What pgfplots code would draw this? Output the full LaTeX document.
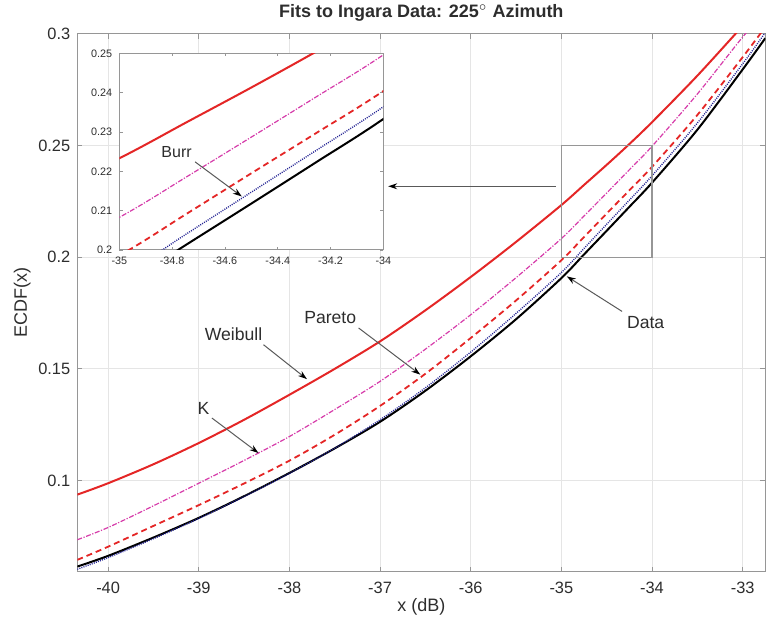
\documentclass[border=0pt]{standalone}
\usepackage{pgfplots}
\usepackage{pgfplotstable}
\pgfplotsset{compat=1.18}
\usepackage{fontspec}
\setmainfont{Liberation Sans}
\usetikzlibrary{arrows.meta}
\definecolor{mred}{RGB}{228,38,38}
\definecolor{mmag}{RGB}{214,60,170}
\definecolor{mblue}{RGB}{40,40,150}
\definecolor{axgray}{RGB}{150,150,150}
\definecolor{txtgray}{RGB}{45,45,45}

\pgfplotstableread{
x y
-40.34 0.0937
-40 0.0988
-39.5 0.1073
-39 0.1168
-38.5 0.1272
-38 0.1384
-37.5 0.1500
-37 0.1623
-36.5 0.1762
-36 0.1911
-35.5 0.2068
-35 0.2233
-34.75 0.2323
-34.5 0.2413
-34.25 0.2506
-34 0.2604
-33.5 0.2812
-33 0.3035
}\weibull

\pgfplotstableread{
x y
-40.34 0.0735
-40 0.0790
-39.5 0.0887
-39 0.0988
-38.5 0.1090
-38 0.1197
-37.5 0.1318
-37 0.1444
-36.5 0.1588
-36 0.1742
-35.5 0.1908
-35 0.2083
-34.75 0.2184
-34.5 0.2287
-34.25 0.2391
-34 0.2496
-33.5 0.2730
-33 0.2985
-32.75 0.3100
}\kdist

\pgfplotstableread{
x y
-40.34 0.0645
-40 0.0704
-39.5 0.0797
-39 0.0890
-38.5 0.0987
-38 0.1089
-37.5 0.1205
-37 0.1334
-36.5 0.1478
-36 0.1638
-35.5 0.1806
-35 0.1986
-34.75 0.2090
-34.5 0.2195
-34.25 0.2299
-34 0.2404
-33.5 0.2636
-33 0.2895
-32.75 0.3030
}\pareto

\pgfplotstableread{
x y
-40.34 0.0603
-40 0.0655
-39.5 0.0740
-39 0.0830
-38.5 0.0928
-38 0.1032
-37.5 0.1145
-37 0.1272
-36.5 0.1415
-36 0.1575
-35.5 0.1748
-35 0.1931
-34.75 0.2039
-34.5 0.2147
-34.25 0.2255
-34 0.2364
-33.5 0.2600
-33 0.2865
-32.75 0.3005
}\burr

\pgfplotstableread{
x y
-40.34 0.0615
-40 0.0663
-39.5 0.0745
-39 0.0833
-38.5 0.0930
-38 0.1034
-37.5 0.1144
-37 0.1263
-36.5 0.1402
-36 0.1556
-35.5 0.1722
-35 0.1906
-34.75 0.2012
-34.5 0.2118
-34.25 0.2225
-34 0.2333
-33.5 0.2570
-33 0.2840
-32.75 0.2980
}\data

\begin{document}
\begin{tikzpicture}
\pgfplotsset{
  curves/.style={no marks, smooth, tension=0.5},
  wbl/.style={mred, line width=1pt},
  kst/.style={mmag, line width=0.6pt, dash pattern=on 2.5pt off 0.8pt on 0.6pt off 0.8pt},
  par/.style={mred, line width=0.9pt, dash pattern=on 3pt off 2pt},
  bur/.style={mblue, line width=0.7pt, dash pattern=on 0.5pt off 0.6pt},
  dat/.style={black, line width=1pt},
}
\begin{axis}[
  at={(0,0)}, anchor=south west,
  scale only axis, width=344pt, height=269pt,
  xmin=-40.34, xmax=-32.75, ymin=0.0592, ymax=0.3,
  xtick={-40,-39,-38,-37,-36,-35,-34,-33},
  ytick={0.1,0.15,0.2,0.25,0.3},
  grid=major, major grid style={black!10, line width=0.4pt},
  axis line style={axgray, line width=0.5pt},
  tick style={axgray, line width=0.5pt}, tick align=inside, major tick length=2.5pt,
  /pgf/number format/assume math mode=true,
  ticklabel style={font=\fontsize{8.2}{9}\selectfont, text=txtgray},
  xticklabel style={yshift=-1.5pt},
  yticklabel style={/pgf/number format/fixed, /pgf/number format/precision=2},
  xlabel={x (dB)}, ylabel={ECDF(x)},
  label style={font=\fontsize{9}{10}\selectfont, text=txtgray},
  xlabel style={at={(axis description cs:0.5,-0.0658)}, anchor=center},
  ylabel style={at={(axis description cs:-0.08,0.5)}, anchor=center},
]
\addplot[curves, wbl] table {\weibull};
\addplot[curves, kst] table {\kdist};
\addplot[curves, par] table {\pareto};
\addplot[curves, dat] table {\data};
\addplot[curves, bur] table {\burr};
\draw[axgray, line width=0.6pt] (axis cs:-35,0.2) rectangle (axis cs:-34,0.25);
\draw[black!65, line width=0.5pt, -{Stealth[length=4.5pt,width=3pt,black]}] (axis cs:-35.06,0.2317) -- (axis cs:-36.91,0.2317);
\tikzset{ann/.style={black!65, line width=0.5pt, -{Stealth[length=4.5pt,width=3pt,black]}},
         lab/.style={font=\fontsize{8.8}{10}\selectfont, text=txtgray}}
\draw[ann] (axis cs:-38.286,0.1608) -- (axis cs:-37.807,0.1454);
\node[lab] at (axis cs:-38.617,0.1653) {Weibull};
\draw[ann] (axis cs:-37.237,0.1683) -- (axis cs:-36.556,0.1474);
\node[lab] at (axis cs:-37.55,0.1728) {Pareto};
\draw[ann] (axis cs:-38.855,0.128) -- (axis cs:-38.341,0.1123);
\node[lab] at (axis cs:-38.948,0.1324) {K};
\draw[ann] (axis cs:-34.33,0.1757) -- (axis cs:-34.94,0.1914);
\node[lab] at (axis cs:-34.07,0.1708) {Data};
\end{axis}

\begin{axis}[
  at={(21pt,160.85pt)}, anchor=south west,
  scale only axis, width=132pt, height=98.35pt,
  xmin=-35, xmax=-34, ymin=0.2, ymax=0.25,
  xtick={-35,-34.8,-34.6,-34.4,-34.2,-34},
  ytick={0.2,0.21,0.22,0.23,0.24,0.25},
  axis background/.style={fill=white},
  axis line style={axgray, line width=0.5pt},
  tick style={axgray, line width=0.4pt}, tick align=inside, major tick length=1.6pt,
  /pgf/number format/assume math mode=true,
  ticklabel style={font=\fontsize{5.4}{6}\selectfont, text=txtgray},
  xticklabel style={/pgf/number format/fixed, /pgf/number format/precision=1},
  yticklabel style={/pgf/number format/fixed, /pgf/number format/precision=2},
]
\addplot[curves, wbl] table {\weibull};
\addplot[curves, kst] table {\kdist};
\addplot[curves, par] table {\pareto};
\addplot[curves, dat] table {\data};
\addplot[curves, bur] table {\burr};
\draw[black!65, line width=0.5pt, -{Stealth[length=4.5pt,width=3pt,black]}] (axis cs:-34.713,0.2224) -- (axis cs:-34.536,0.2136);
\node[font=\fontsize{8}{9}\selectfont, text=txtgray] at (axis cs:-34.783,0.225) {Burr};
\end{axis}
\node[font=\bfseries\fontsize{9}{10}\selectfont, text=txtgray] at (172pt,279.35pt) {Fits to Ingara Data: 225$^{\circ}$ Azimuth};
\pgfresetboundingbox
\path[use as bounding box] (-38.65pt,-28.65pt) rectangle (346.35pt,285.85pt);
\end{tikzpicture}
\end{document}
